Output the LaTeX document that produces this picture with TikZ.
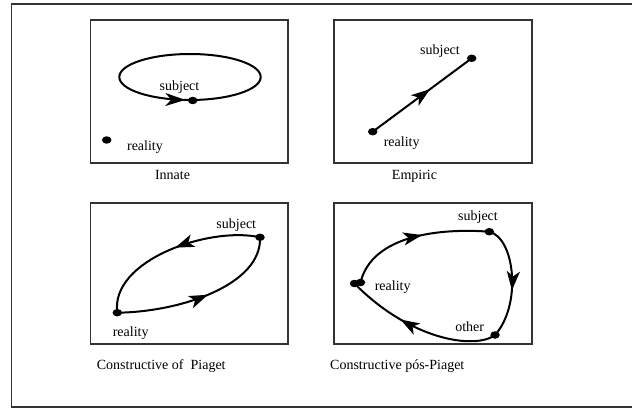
\documentclass[tikz,border=0pt]{standalone}
\usepackage{fontspec}
\setmainfont{Liberation Serif}
\usetikzlibrary{arrows.meta,shapes.geometric,decorations.markings}
\tikzset{
  frame/.style={draw=black!80, line width=1.3pt},
  dot/.style={ellipse, fill=black, draw=none, minimum width=9.5pt, minimum height=7.5pt, inner sep=0pt},
  curve/.style={draw=black, line width=2pt},
  lbl/.style={anchor=base, inner sep=0pt, font=\fontsize{14}{16}\selectfont},
  captxt/.style={anchor=base west, inner sep=0pt, font=\fontsize{14}{16}\selectfont},
  midarrow/.style={postaction={decorate}, decoration={markings, mark=at position #1 with {\arrow{Stealth[length=19pt,width=13pt,inset=5pt]}}}},
  revarrow/.style={postaction={decorate}, decoration={markings, mark=at position #1 with {\arrowreversed{Stealth[length=20pt,width=13pt,inset=6pt]}}}}
}
\begin{document}
\begin{tikzpicture}[x=1pt,y=-1pt]
\useasboundingbox (0,0) rectangle (632,409);
\clip (0,0) rectangle (632,409);
\fill[white] (0,0) rectangle (632,409);
% outer frame
\draw[frame] (11.5,4) rectangle (660,407);
% four panels
\draw[frame] (90.5,20) rectangle (288,163);
\draw[frame] (334,20) rectangle (532,163);
\draw[frame] (90.5,203) rectangle (288,344);
\draw[frame] (334,203) rectangle (532,344);

% ---- Innate ----
\draw[curve, revarrow=0.265] (190,77) ellipse [x radius=70.7, y radius=23];
\node[dot] (s1) at (192.7,100.5) {};
\node[dot] (r1) at (106.7,140) {};
\node[lbl] (ls1) at (179.5,90.7) {subject};
\node[lbl] (lr1) at (145,151) {reality};
\node[lbl] (c1) at (172.5,179.3) {Innate};

% ---- Empiric ----
\node[dot] (s2) at (471.7,58.3) {};
\node[dot] (r2) at (372.7,131.7) {};
\draw[curve, midarrow=0.58] (r2.center) -- (s2.center);
\node[lbl] (ls2) at (440,54.3) {subject};
\node[lbl] (lr2) at (401.7,146.7) {reality};
\node[lbl] (c2) at (414.5,179.3) {Empiric};

% ---- Constructive of Piaget ----
\node[dot] (s3) at (260,237.3) {};
\node[dot] (r3) at (117.3,312.7) {};
\draw[curve, midarrow=0.48] (s3.center) .. controls (210,226) and (110,260) .. (r3.center);
\draw[curve, midarrow=0.53] (r3.center) .. controls (180,312) and (262,285) .. (s3.center);
\node[lbl] (ls3) at (236.3,228.3) {subject};
\node[lbl] (lr3) at (130.7,336.7) {reality};
\node[captxt] (c3) at (96.7,369.3) {Constructive of\ \ Piaget};

% ---- Constructive pos-Piaget ----
\node[dot] (s4) at (489.3,231.7) {};
\node[dot] (o4) at (495,335) {};
\node[dot] (r4a) at (354.5,283.5) {};
\node[dot] (r4) at (360.5,282.5) {};
\draw[curve, midarrow=0.55] (r4.center) .. controls (372,235) and (440,228) .. (s4.center);
\draw[curve, midarrow=0.58] (s4.center) .. controls (515,238) and (522,305) .. (o4.center);
\draw[curve, midarrow=0.63] (o4.center) .. controls (475,350) and (410,340) .. (r4a.center);
\node[lbl] (ls4) at (478,220) {subject};
\node[lbl] (lr4) at (392.7,290.7) {reality};
\node[lbl] (lo4) at (469.7,331.7) {other};
\node[captxt] (c4) at (330,369.3) {Constructive pós-Piaget};
\end{tikzpicture}
\end{document}
